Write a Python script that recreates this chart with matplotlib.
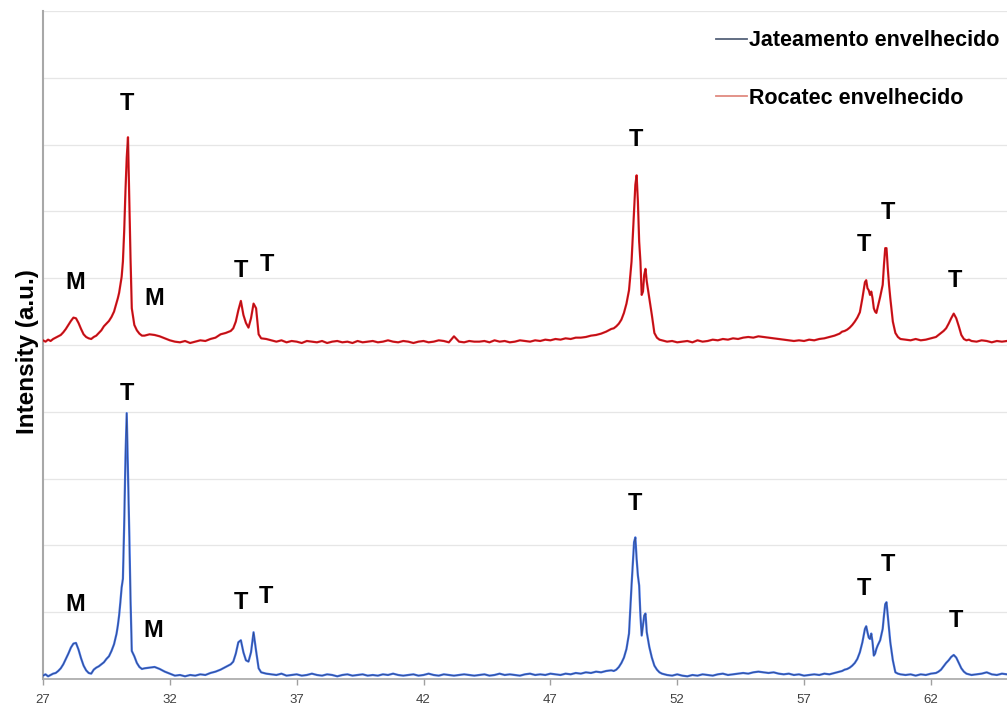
import matplotlib
matplotlib.use("Agg")
import matplotlib.pyplot as plt
from matplotlib.lines import Line2D

plt.rcParams['font.family'] = ['Liberation Sans', 'DejaVu Sans']

# 2-theta scan positions (degrees)
two_theta = [
    27.0, 27.1, 27.2, 27.3, 27.4, 27.5, 27.6,
    27.7, 27.8, 27.9, 28.0, 28.1, 28.2, 28.3, 28.4, 28.5, 28.6, 28.7, 28.8, 28.9,
    29.0, 29.1, 29.2, 29.3, 29.4, 29.5, 29.6, 29.7, 29.8,
    29.9, 29.95, 30.0, 30.05, 30.1, 30.15, 30.2, 30.25, 30.3, 30.35, 30.4, 30.45, 30.5, 30.6, 30.7, 30.8, 30.9,
    31.0, 31.2, 31.4, 31.6, 31.8, 32.0, 32.2, 32.4, 32.6, 32.8, 33.0, 33.2, 33.4, 33.6, 33.8, 34.0, 34.2, 34.4,
    34.5, 34.6, 34.7, 34.8, 34.9, 35.0, 35.1, 35.2, 35.3, 35.4, 35.5, 35.6,
    35.8, 36.0, 36.2, 36.4, 36.6, 36.8, 37.0, 37.2, 37.4, 37.6, 37.8, 38.0, 38.2, 38.4, 38.6, 38.8, 39.0, 39.2, 39.4, 39.6, 39.8,
    40.0, 40.2, 40.4, 40.6, 40.8, 41.0, 41.2, 41.4, 41.6, 41.8, 42.0, 42.2, 42.4, 42.6, 42.8, 43.0, 43.2, 43.4, 43.6, 43.8, 44.0,
    44.2, 44.4, 44.6, 44.8, 45.0, 45.2, 45.4, 45.6, 45.8, 46.0, 46.2, 46.4, 46.6, 46.8, 47.0, 47.2, 47.4, 47.6, 47.8, 48.0,
    48.2, 48.4, 48.6, 48.8, 49.0, 49.2, 49.4,
    49.5, 49.6, 49.7, 49.8, 49.9, 50.0, 50.1, 50.2, 50.3, 50.35, 50.4, 50.45, 50.5, 50.55, 50.6, 50.65, 50.7, 50.75, 50.8, 50.9, 51.0, 51.1, 51.2, 51.3,
    51.4, 51.6, 51.8, 52.0, 52.2, 52.4, 52.6, 52.8, 53.0, 53.2, 53.4, 53.6, 53.8, 54.0, 54.2, 54.4, 54.6, 54.8, 55.0,
    55.2, 55.4, 55.6, 55.8, 56.0, 56.2, 56.4, 56.6, 56.8, 57.0, 57.2, 57.4, 57.6, 57.8, 58.0, 58.2, 58.4,
    58.5, 58.6, 58.7, 58.8, 58.9, 59.0, 59.1, 59.2, 59.3, 59.4, 59.45, 59.5, 59.55, 59.6, 59.65, 59.7, 59.75, 59.8, 59.85, 59.9,
    60.0, 60.1, 60.15, 60.2, 60.25, 60.3, 60.35, 60.4, 60.5, 60.6, 60.7, 60.8,
    61.0, 61.2, 61.4, 61.6, 61.8, 62.0, 62.2,
    62.3, 62.4, 62.5, 62.6, 62.7, 62.8, 62.9, 63.0, 63.1, 63.2, 63.3, 63.4, 63.5,
    63.6, 63.8, 64.0, 64.2, 64.4, 64.6, 64.8, 65.0,
]

# Jateamento envelhecido (blue, lower trace)
jateamento = [
    5, 7, 4, 6, 8, 9, 12,
    16, 22, 30, 38, 47, 53, 54, 44, 31, 20, 13, 9, 8,
    14, 17, 19, 22, 25, 30, 34, 42, 52,
    68, 80, 95, 115, 137, 150, 230, 330, 398, 310, 220, 120, 42, 34, 24, 18, 15,
    16, 17, 18, 15, 11, 8, 5, 6, 4, 6, 5, 7, 6, 9, 11, 14, 18, 22,
    26, 38, 55, 58, 40, 28, 26, 40, 70, 42, 16, 10,
    8, 7, 6, 8, 5, 6, 7, 5, 6, 8, 6, 5, 7, 6, 4, 6, 7, 5, 6, 7, 5,
    6, 5, 7, 6, 8, 6, 5, 6, 7, 5, 6, 8, 6, 5, 7, 6, 5, 6, 7, 6, 5,
    6, 7, 5, 6, 8, 6, 7, 6, 5, 7, 8, 6, 7, 6, 8, 7, 6, 8, 7, 9,
    8, 10, 9, 11, 10, 12, 13,
    12, 14, 18, 24, 32, 45, 68, 140, 205, 212, 180, 155, 140, 95, 65, 80, 95, 98, 70, 48, 32, 20, 14, 10,
    8, 6, 5, 7, 5, 4, 6, 5, 7, 6, 5, 7, 8, 6, 7, 8, 9, 8, 10,
    11, 10, 9, 10, 8, 7, 8, 6, 7, 5, 6, 7, 6, 8, 7, 9, 11,
    12, 14, 15, 17, 20, 24, 30, 40, 55, 75, 79, 70, 62, 60, 68, 55, 35, 38, 45, 50,
    58, 75, 95, 112, 115, 95, 75, 55, 28, 10, 8, 7,
    6, 7, 5, 7, 6, 8, 9,
    11, 14, 19, 24, 28, 33, 36, 32, 24, 16, 11, 8, 7,
    6, 7, 8, 10, 7, 6, 8, 7,
]

# Rocatec envelhecido (red, upper trace, stacked)
rocatec = [
    507, 505, 508, 506, 509, 511, 513,
    515, 519, 524, 530, 536, 541, 540, 533, 524, 516, 512, 510, 509,
    512, 514, 518, 522, 528, 532, 536, 542, 550,
    563, 570, 578, 590, 602, 625, 670, 730, 780, 811, 720, 630, 555, 530, 522, 517, 514,
    514, 516, 515, 513, 510, 507, 505, 504, 506, 503, 505, 507, 506, 509, 511, 516, 518, 521,
    525, 535, 552, 566, 545, 533, 526, 540, 562, 555, 516, 510,
    509, 507, 505, 507, 504, 506, 505, 503, 506, 505, 504, 506, 503, 505, 506, 504, 505, 503, 506, 504, 505,
    506, 504, 505, 507, 505, 504, 506, 505, 503, 505, 506, 504, 505, 507, 506, 504, 513, 505, 504, 506, 505,
    505, 506, 504, 507, 505, 506, 504, 505, 507, 506, 505, 507, 506, 508, 507, 509, 508, 510, 509, 511,
    511, 512, 514, 515, 517, 520, 524,
    525, 528, 532, 538, 548, 562, 582, 625, 700, 740, 754, 715, 655, 625, 575, 580, 605, 614, 595, 570, 545, 518, 511, 508,
    507, 505, 506, 504, 505, 506, 504, 507, 505, 506, 508, 507, 509, 508, 510, 509, 511, 512, 511,
    513, 512, 511, 510, 509, 508, 507, 506, 507, 506, 508, 507, 509, 510, 512, 514, 517,
    520, 521, 523, 526, 530, 535, 541, 549, 570, 594, 597, 585, 582, 575, 580, 570, 555, 550, 548, 556,
    572, 590, 620, 645, 645, 615, 590, 570, 535, 518, 512, 509,
    508, 507, 509, 507, 508, 510, 512,
    515, 518, 521, 525, 532, 540, 547, 540, 528, 515, 509, 507, 508,
    506, 505, 507, 506, 504, 506, 505, 506,
]

# phase annotations: (label, 2theta, intensity)
labels_rocatec = [("M", 28.26, 594), ("T", 30.30, 861), ("M", 31.40, 569),
                  ("T", 34.79, 611), ("T", 35.81, 620), ("T", 50.36, 807),
                  ("T", 59.36, 650), ("T", 60.31, 699), ("T", 62.94, 596)]
labels_jateamento = [("M", 28.26, 111), ("T", 30.30, 427), ("M", 31.33, 73),
                     ("T", 34.79, 114), ("T", 35.77, 123), ("T", 50.32, 263),
                     ("T", 59.36, 135), ("T", 60.31, 171), ("T", 62.98, 87)]

x_ticks = [27, 32, 37, 42, 47, 52, 57, 62]
series_names = ["Jateamento envelhecido", "Rocatec envelhecido"]

BLUE = "#4272e6"
RED = "#e8141c"

fig = plt.figure(figsize=(10.07, 7.07), dpi=100)
ax = fig.add_axes([43 / 1007, 28 / 707, (1007 - 43) / 1007, (679 - 11) / 707])

ax.plot(two_theta, jateamento, color=BLUE, lw=1.6, zorder=3)
ax.plot(two_theta, jateamento, color="#2c3550", lw=0.5, alpha=0.7, zorder=4)
ax.plot(two_theta, rocatec, color=RED, lw=1.6, zorder=3)
ax.plot(two_theta, rocatec, color="#5a1818", lw=0.5, alpha=0.6, zorder=4)

for lab, xx, yy in labels_rocatec + labels_jateamento:
    ax.text(xx, yy, lab, ha="center", va="center", fontsize=17,
            fontweight="bold", color="black", zorder=5)

ax.set_xlim(27, 65)
ax.set_ylim(0, 1000)
ax.set_yticks(range(0, 1001, 100))
ax.set_yticklabels([])
ax.tick_params(axis="y", length=0)
ax.set_xticks(x_ticks)
ax.set_xticklabels([str(t) for t in x_ticks])
ax.tick_params(axis="x", labelsize=9.5, labelcolor="#404040", color="#a0a0a0",
               length=4, width=1, direction="out", pad=7)
ax.grid(axis="y", color="#e6e6e6", lw=0.9)
ax.set_axisbelow(True)
for s in ["top", "right"]:
    ax.spines[s].set_visible(False)
ax.spines["left"].set_color("#a8a8a8")
ax.spines["left"].set_linewidth(1.5)
ax.spines["bottom"].set_color("#a8a8a8")
ax.spines["bottom"].set_linewidth(1.2)

ax.set_ylabel("Intensity (a.u.)", fontsize=17.5, fontweight="bold", labelpad=0.5)
ax.yaxis.set_label_coords(-0.004, 0.49)

handles = [Line2D([], [], color="#55627a", lw=1.3),
           Line2D([], [], color="#e08a80", lw=1.3)]
leg = fig.legend(handles, series_names, loc="upper left",
                 bbox_to_anchor=(697 / 1007, 1 - 11 / 707), frameon=False,
                 prop={"size": 15.5, "weight": "bold"}, handlelength=1.4,
                 handletextpad=0.1, labelspacing=1.68, borderpad=0.4)

fig.savefig("out.png", dpi=100)
